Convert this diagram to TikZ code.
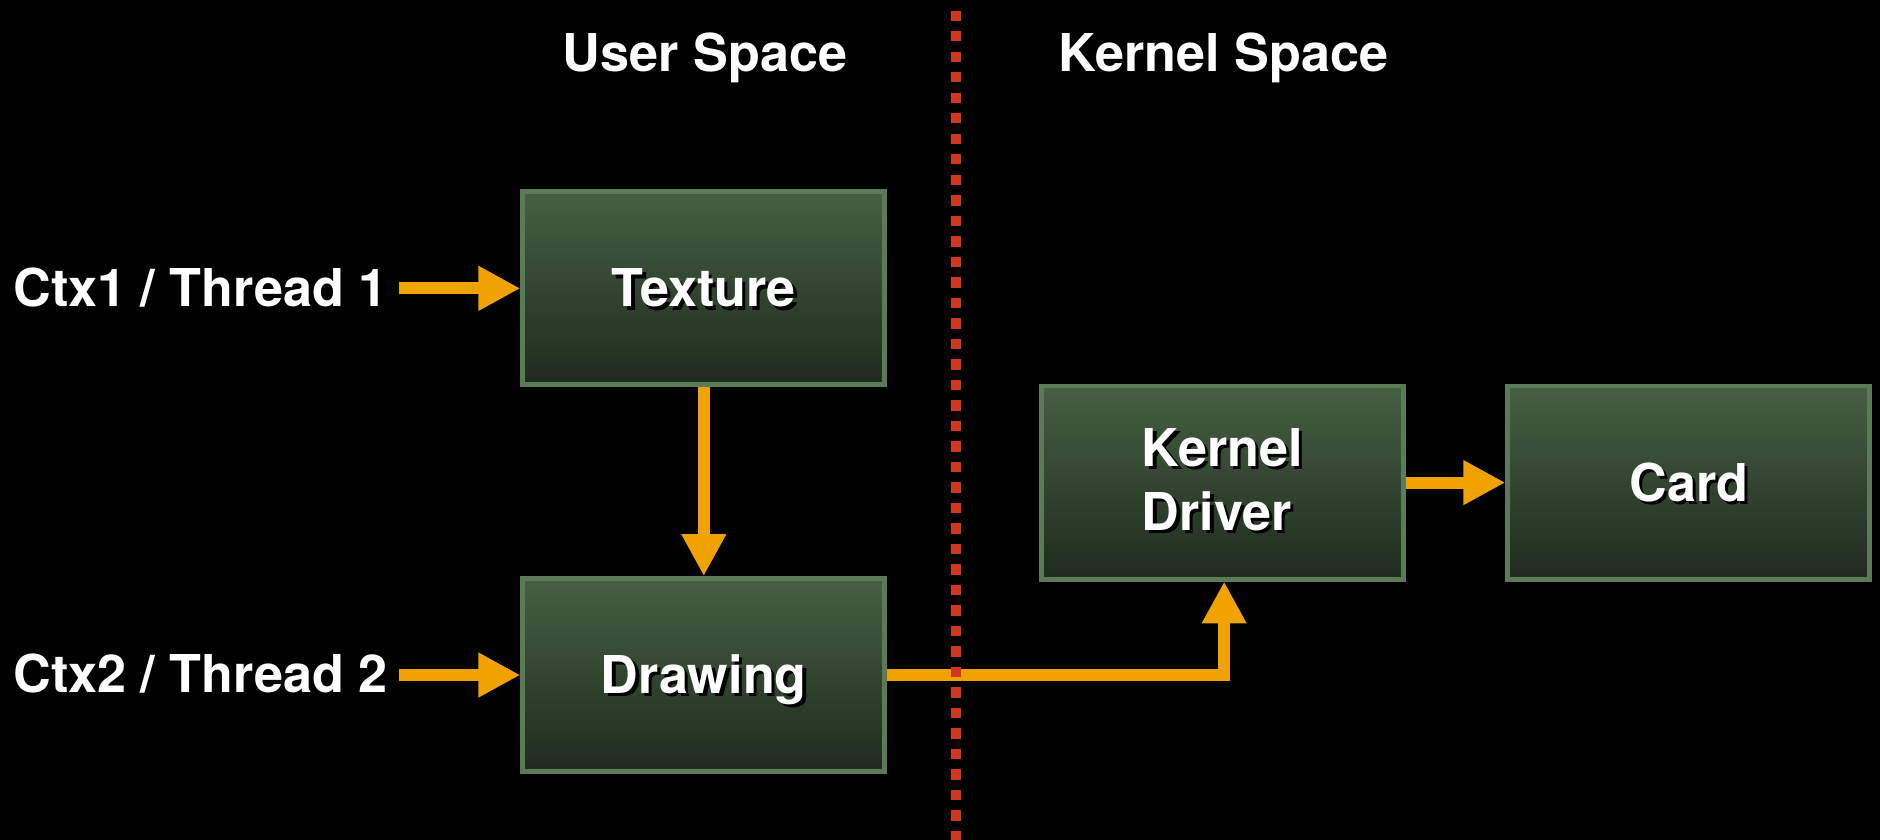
\documentclass[tikz,border=0pt]{standalone}
\usepackage{fontspec}
\setmainfont{TeX Gyre Heros}
\usetikzlibrary{arrows.meta}
\definecolor{orng}{HTML}{EFA200}
\definecolor{redd}{HTML}{CF371F}
\definecolor{bord}{HTML}{5B7B56}
\definecolor{gtop}{HTML}{465F43}
\definecolor{gmid}{HTML}{344B32}
\definecolor{gbot}{HTML}{1F2B1E}
\newcommand\shd[1]{\rlap{\hspace{2.8pt}\raisebox{-2.8pt}{\color{black}#1}}#1}
\tikzset{
  txt/.style={font=\fontsize{43.5}{53.4}\selectfont\bfseries, text=white, inner sep=0pt},
  boxnode/.style={rectangle, draw=bord, line width=4pt, top color=gtop, middle color=gmid, bottom color=gbot,
    minimum width=302pt, minimum height=161pt, inner sep=0pt, txt},
  oneline/.style={text height=31pt, text depth=0pt},
  arr/.style={draw=orng, line width=10pt, -{Triangle[length=35pt,width=35pt]}},
  divider/.style={draw=redd, line width=8.5pt, dash pattern=on 8.5pt off 8.6pt}
}
\begin{document}
\begin{tikzpicture}[x=1pt,y=-1pt]
\useasboundingbox (0,0) rectangle (1568,700);
\fill[black] (-10,-10) rectangle (1578,710);

% headers
\node[txt, anchor=base] (hus) at (588,60) {User Space};
\node[txt, anchor=base] (hks) at (1020.5,60) {Kernel Space};

% boxes
\node[boxnode, oneline] (tex) at (587,240.5) {\shd{Texture}};
\node[boxnode, oneline] (drw) at (587,563) {\shd{Drawing}};
\node[boxnode] (kd) at (1019.5,402.5) {\raisebox{-3.8pt}[\height][\depth]{\shd{\begin{tabular}{@{}l@{}}Kernel\\Driver\end{tabular}}}};
\node[boxnode, oneline] (card) at (1408.5,402.5) {\shd{Card}};

% left labels
\node[txt, oneline, anchor=west] (c1) at (11,240) {Ctx1 / Thread 1};
\node[txt, oneline, anchor=west] (c2) at (11,562) {Ctx2 / Thread 2};
\coordinate (c1s) at (333,240.5);
\coordinate (c2s) at (333,563);

% connectors
\draw[arr] (c1s) -- (tex.west);
\draw[arr] (c2s) -- (drw.west);
\draw[arr] (tex.south) -- (drw.north);
\draw[arr] (drw.east) -| ([xshift=1.5pt]kd.south);
\draw[arr] (kd.east) -- (card.west);

% divider
\coordinate (dtop) at (797,9);
\coordinate (dbot) at (797,705);
\draw[divider] (dtop) -- (dbot);
\end{tikzpicture}
\end{document}
